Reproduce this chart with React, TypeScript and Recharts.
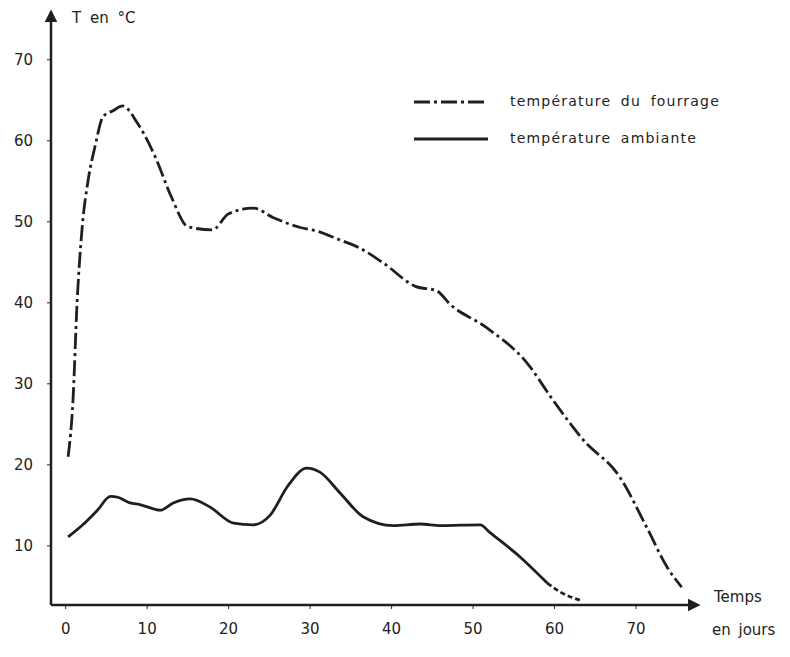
import { LineChart, Line, XAxis, YAxis } from 'recharts';

// temperature du fourrage (dash-dot curve)
const fourrageDays = [0.3, 0.9, 1.4, 2.0, 2.8, 3.6, 4.6, 5.8, 7.0, 8.8, 11, 13, 15, 18, 20, 23, 25.5, 28.8, 31, 33.3, 36, 39, 43, 45.5, 47.2, 51.7, 56.6, 59.8, 63.5, 68, 71.3, 73.8, 75.6];
const fourrageTemps = [21, 28, 40, 49, 55.4, 59.3, 63, 63.7, 64.3, 62.2, 58, 53, 49.4, 49, 51, 51.7, 50.5, 49.3, 48.8, 47.9, 46.8, 44.9, 42, 41.5, 39.8, 36.9, 32.6, 28, 23.1, 18.5, 12.3, 7.4, 4.9];

// temperature ambiante (solid curve)
const ambianteDays = [0.3, 2.1, 3.9, 5.5, 6.4, 7.9, 9.1, 11.6, 13.2, 15.3, 17.7, 20.6, 23, 25.1, 27.2, 29.6, 31.2, 33.7, 36.5, 40.2, 43.5, 46, 50.9, 52, 55.8, 59.1];
const ambianteTemps = [11.1, 12.6, 14.4, 16.1, 16, 15.3, 15.1, 14.4, 15.3, 15.8, 14.8, 12.8, 12.6, 13.8, 17.3, 19.6, 19.1, 16.5, 13.6, 12.5, 12.7, 12.5, 12.6, 11.7, 8.6, 5.4];

// short dotted tail at the end of the ambient curve
const tailDays = [59.1, 60.7, 63.1];
const tailTemps = [5.4, 4.3, 3.3];

const xTicks = [0, 10, 20, 30, 40, 50, 60, 70];
const yTicks = [10, 20, 30, 40, 50, 60, 70];

const fourrage = fourrageDays.map((d, i) => ({ jour: d, temp: fourrageTemps[i] }));
const ambiante = ambianteDays.map((d, i) => ({ jour: d, temp: ambianteTemps[i] }));
const tail = tailDays.map((d, i) => ({ jour: d, temp: tailTemps[i] }));

const ink = '#1f1f1f';
const font = '"DejaVu Sans", sans-serif';
const fourrageDash = '16 4 3 4';

const legendItems = [
  { label: 'température du fourrage', dash: fourrageDash },
  { label: 'température ambiante', dash: undefined },
];

export default function App() {
  return (
    <div style={{ position: 'absolute', left: 0, top: 0, width: 790, height: 657, background: '#fff', fontFamily: font }}>
      <svg width={0} height={0} style={{ position: 'absolute' }}>
        <defs>
          <marker id="arrow" viewBox="0 0 10 10" refX="8" refY="5" markerWidth="5" markerHeight="5" orient="auto-start-reverse">
            <path d="M0,0 L10,5 L0,10 z" fill={ink} />
          </marker>
        </defs>
      </svg>
      <LineChart width={790} height={657} margin={{ top: 12, right: 92, left: 0, bottom: 0 }}>
        <XAxis
          type="number"
          dataKey="jour"
          domain={[-1.8, 77.6]}
          ticks={xTicks}
          allowDataOverflow
          height={52}
          tickSize={4}
          tickMargin={14}
          axisLine={{ stroke: ink, strokeWidth: 2.5, markerEnd: 'url(#arrow)' }}
          tickLine={{ stroke: ink }}
          tick={{ fill: '#222', fontSize: 15, fontFamily: font }}
        />
        <YAxis
          type="number"
          dataKey="temp"
          domain={[2.7, 75.9]}
          ticks={yTicks}
          allowDataOverflow
          width={51}
          tickSize={4}
          tickMargin={14}
          axisLine={{ stroke: ink, strokeWidth: 2.5, markerStart: 'url(#arrow)' }}
          tickLine={{ stroke: ink }}
          tick={{ fill: '#222', fontSize: 15, fontFamily: font }}
        />
        <Line
          data={fourrage}
          dataKey="temp"
          type="monotone"
          stroke={ink}
          strokeWidth={2.8}
          strokeDasharray={fourrageDash}
          dot={false}
          isAnimationActive={false}
        />
        <Line
          data={ambiante}
          dataKey="temp"
          type="monotone"
          stroke={ink}
          strokeWidth={2.8}
          dot={false}
          isAnimationActive={false}
        />
        <Line
          data={tail}
          dataKey="temp"
          type="monotone"
          stroke={ink}
          strokeWidth={2.8}
          strokeDasharray="5 3"
          dot={false}
          isAnimationActive={false}
        />
      </LineChart>
      <div style={{ position: 'absolute', left: 412, top: 82, fontSize: 14, color: '#222', letterSpacing: 1.2 }}>
        {legendItems.map((item) => (
          <div key={item.label} style={{ display: 'flex', alignItems: 'center', height: 37 }}>
            <svg width={78} height={10} style={{ marginRight: 20 }}>
              <line x1={2} y1={6} x2={76} y2={6} stroke={ink} strokeWidth={3} strokeDasharray={item.dash} />
            </svg>
            <span style={{ wordSpacing: 4 }}>{item.label}</span>
          </div>
        ))}
      </div>
      <div style={{ position: 'absolute', left: 72, top: 9, fontSize: 15, color: '#222', wordSpacing: 4 }}>T en °C</div>
      <div style={{ position: 'absolute', left: 714, top: 588, fontSize: 15, color: '#222' }}>Temps</div>
      <div style={{ position: 'absolute', left: 712, top: 621, fontSize: 15, color: '#222', wordSpacing: 3 }}>en jours</div>
    </div>
  );
}
